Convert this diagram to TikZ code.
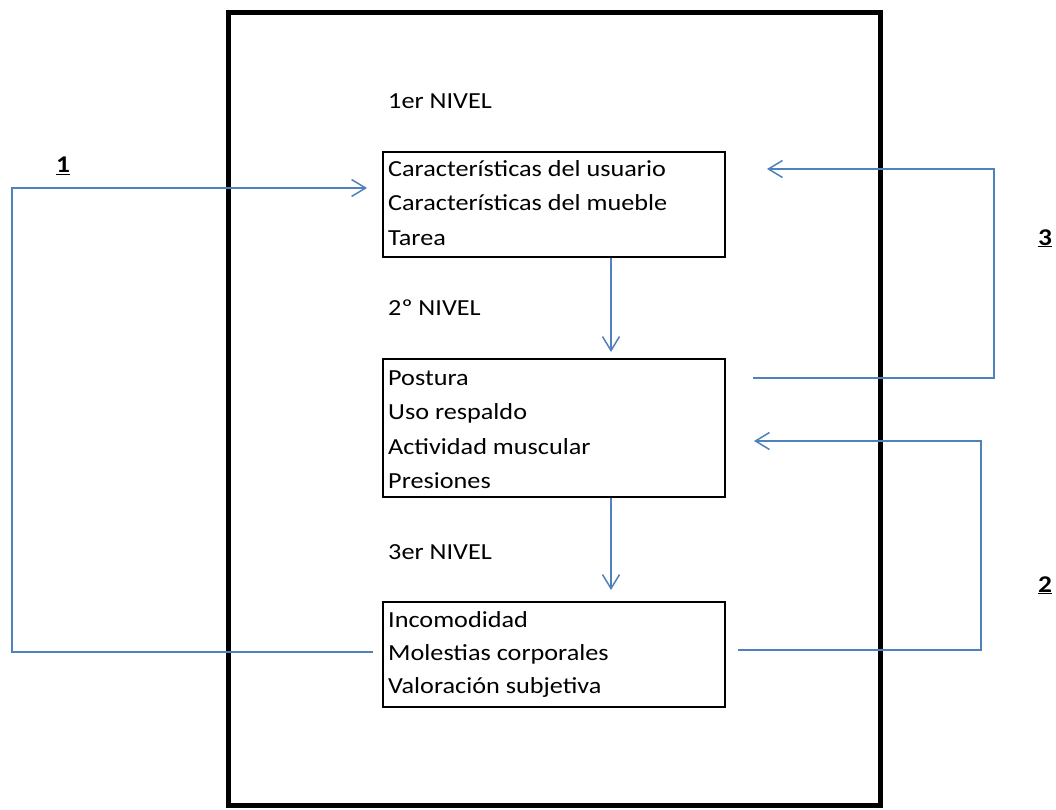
\documentclass[tikz,border=0pt]{standalone}
\usepackage{fontspec}
\setmainfont[FakeStretch=1.14]{Carlito}
\usetikzlibrary{arrows.meta}
\definecolor{lineblue}{RGB}{79,129,189}
\tikzset{
  frame/.style={draw=black, line width=5pt},
  box/.style={draw=black, line width=2pt, anchor=north west, inner sep=0pt},
  txt/.style={anchor=base west, inner sep=0pt, font=\fontsize{23}{27}\selectfont},
  lvl/.style={anchor=base west, inner sep=0pt, font=\fontsize{23}{27}\selectfont},
  num/.style={anchor=base, inner sep=0pt, font=\fontsize{24}{28}\selectfont\bfseries},
  link/.style={draw=lineblue, line width=1.5pt},
  arr/.style={link, -{Straight Barb[length=14pt, width=17pt, line width=1.5pt]}}
}
\begin{document}
\begin{tikzpicture}[x=1pt, y=-1pt]
\useasboundingbox (0,0) rectangle (1056,810);
\fill[white] (0,0) rectangle (1056,810);
% outer frame
\draw[frame] (228,13) rectangle (880,805);

% level labels
\node[lvl] (l1) at (388,109) {1er NIVEL};
\node[lvl] (l2) at (388,315) {2º NIVEL};
\node[lvl] (l3) at (388,559) {3er NIVEL};

% boxes
\node[box, minimum width=342pt, minimum height=105pt] (b1) at (382,151) {};
\node[box, minimum width=342pt, minimum height=138pt] (b2) at (382,358) {};
\node[box, minimum width=342pt, minimum height=105pt] (b3) at (382,601) {};

% box texts
\node[txt] (t11) at (388,177) {Características del usuario};
\node[txt] (t12) at (388,211) {Características del mueble};
\node[txt] (t13) at (388,245) {Tarea};

\node[txt] (t21) at (388,385) {Postura};
\node[txt] (t22) at (388,419) {Uso respaldo};
\node[txt] (t23) at (388,454) {Actividad muscular};
\node[txt] (t24) at (388,488) {Presiones};

\node[txt] (t31) at (388,627) {Incomodidad};
\node[txt] (t32) at (388,660) {Molestias corporales};
\node[txt] (t33) at (388,693) {Valoración subjetiva};

% numbers
\node[num] (n1) at (63,173) {\underline{1}};
\node[num] (n3) at (1045,245) {\underline{3}};
\node[num] (n2) at (1045,592) {\underline{2}};

% down arrows
\draw[arr] ([xshift=57pt]b1.south) -- ([xshift=57pt, yshift=6pt]b2.north);
\draw[arr] ([xshift=57pt]b2.south) -- ([xshift=57pt, yshift=11pt]b3.north);

% loop 1
\coordinate (a1s) at (373,652);
\coordinate (a1c) at (12,188);
\coordinate (a1e) at (367,188);
\draw[arr] (a1s) -| (a1c) -- (a1e);

% loop 3
\coordinate (a3s) at (753,378);
\coordinate (a3c) at (994,169);
\coordinate (a3e) at (767,169);
\draw[arr] (a3s) -| (a3c) -- (a3e);

% loop 2
\coordinate (a2s) at (738,650);
\coordinate (a2c) at (981,441);
\coordinate (a2e) at (754,441);
\draw[arr] (a2s) -| (a2c) -- (a2e);
\end{tikzpicture}
\end{document}
